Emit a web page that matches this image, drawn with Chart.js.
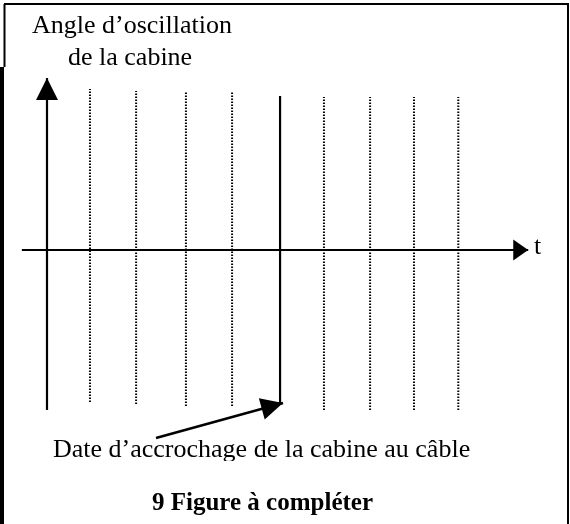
<!DOCTYPE html>
<html>
<head>
<meta charset="utf-8">
<script src="https://cdn.jsdelivr.net/npm/chart.js@4"></script>
<style>
  body { margin: 0; background: #fff; }
  canvas { display: block; }
</style>
</head>
<body>
<canvas id="figure" width="570" height="524"></canvas>
<script>
// traits pointillés (dates t) et leurs extrémités (angle)
const pointillesT = [0.94, 1.95, 3.04, 4.05, 6.06, 7.07, 8.03, 9.0];
const pointillesHaut = [1.006, 0.994, 0.988, 0.988, 0.956, 0.956, 0.956, 0.956];
const pointillesBas = [-0.95, -0.963, -0.975, -0.975, -1.0, -1.0, -1.0, -1.0];

// trait plein : date d'accrochage
const accrochageT = [5.1, 5.1];
const accrochageAngle = [0.963, -0.956];

// axes
const axeAngleT = [0, 0];
const axeAngleV = [-1.0, 1.075];
const axeTempsT = [-0.55, 10.53];
const axeTempsV = [0, 0];

// flèche qui montre la date d'accrochage
const flecheT = [2.385, 5.164];
const flecheV = [-1.175, -0.956];

function segment(ts, vs, style) {
    return Object.assign({
        data: ts.map((t, i) => ({ x: t, y: vs[i] })),
        borderColor: '#000',
        borderWidth: 2.2,
        pointRadius: 0,
        tension: 0,
        fill: false
    }, style || {});
}

const datasets = [];
pointillesT.forEach((t, i) => {
    datasets.push(segment([t, t], [pointillesBas[i], pointillesHaut[i]], {
        borderWidth: 2,
        borderDash: [1.5, 1.5]
    }));
});
datasets.push(segment(accrochageT, accrochageAngle));
datasets.push(segment(axeAngleT, axeAngleV));
datasets.push(segment(axeTempsT, axeTempsV));
datasets.push(segment(flecheT, flecheV, { borderWidth: 2.5 }));

function pointe(ctx, x0, y0, x1, y1, longueur, demi) {
    const a = Math.atan2(y1 - y0, x1 - x0);
    const bx = x1 - longueur * Math.cos(a);
    const by = y1 - longueur * Math.sin(a);
    ctx.beginPath();
    ctx.moveTo(x1, y1);
    ctx.lineTo(bx + demi * Math.sin(a), by - demi * Math.cos(a));
    ctx.lineTo(bx - demi * Math.sin(a), by + demi * Math.cos(a));
    ctx.closePath();
    ctx.fill();
}

const decor = {
    id: 'decor',
    afterDatasetsDraw(chart) {
        const ctx = chart.ctx;
        const sx = chart.scales.x;
        const sy = chart.scales.y;
        const px = v => sx.getPixelForValue(v);
        const py = v => sy.getPixelForValue(v);
        ctx.save();
        ctx.fillStyle = '#000';
        ctx.strokeStyle = '#000';

        // pointes des flèches
        pointe(ctx, px(axeAngleT[0]), py(axeAngleV[0]), px(axeAngleT[1]), py(axeAngleV[1]), 22, 11);
        pointe(ctx, px(axeTempsT[0]), py(axeTempsV[0]), px(axeTempsT[1]), py(axeTempsV[1]), 15, 10.5);
        pointe(ctx, px(flecheT[0]), py(flecheV[0]), px(flecheT[1]), py(flecheV[1]), 22, 11);

        // cadre
        ctx.lineWidth = 2;
        ctx.beginPath();
        ctx.moveTo(4, 4); ctx.lineTo(568, 4); ctx.lineTo(568, 524);
        ctx.moveTo(4.5, 4); ctx.lineTo(4.5, 67);
        ctx.stroke();
        ctx.lineWidth = 4;
        ctx.beginPath();
        ctx.moveTo(2, 67); ctx.lineTo(2, 524);
        ctx.stroke();

        // textes
        ctx.textBaseline = 'alphabetic';
        ctx.textAlign = 'left';
        ctx.font = '26px "Liberation Serif", "Times New Roman", serif';
        ctx.fillText('Angle d\u2019oscillation', 32, 33);
        ctx.fillText('de la cabine', 68, 65);
        ctx.fillText('t', 534, 254);

        ctx.save();
        ctx.beginPath();
        ctx.rect(0, 420, 570, 41);
        ctx.clip();
        ctx.fillText('Date d\u2019accrochage de la cabine au c\u00e2ble', 53, 457);
        ctx.restore();

        ctx.font = 'bold 25px "Liberation Serif", "Times New Roman", serif';
        ctx.fillText('9 Figure \u00e0 compl\u00e9ter', 152, 510);
        ctx.restore();
    }
};

const unite = 45.7;   // pixels par unité de t
const uniteV = 160;   // pixels par unité d'angle

new Chart(document.getElementById('figure').getContext('2d'), {
    type: 'line',
    data: { datasets: datasets },
    options: {
        responsive: false,
        animation: false,
        layout: { padding: 0 },
        plugins: { legend: { display: false }, tooltip: { enabled: false } },
        scales: {
            x: { type: 'linear', display: false, min: -47 / unite, max: (570 - 47) / unite },
            y: { type: 'linear', display: false, min: (250 - 524) / uniteV, max: 250 / uniteV }
        }
    },
    plugins: [decor]
});
</script>
</body>
</html>
